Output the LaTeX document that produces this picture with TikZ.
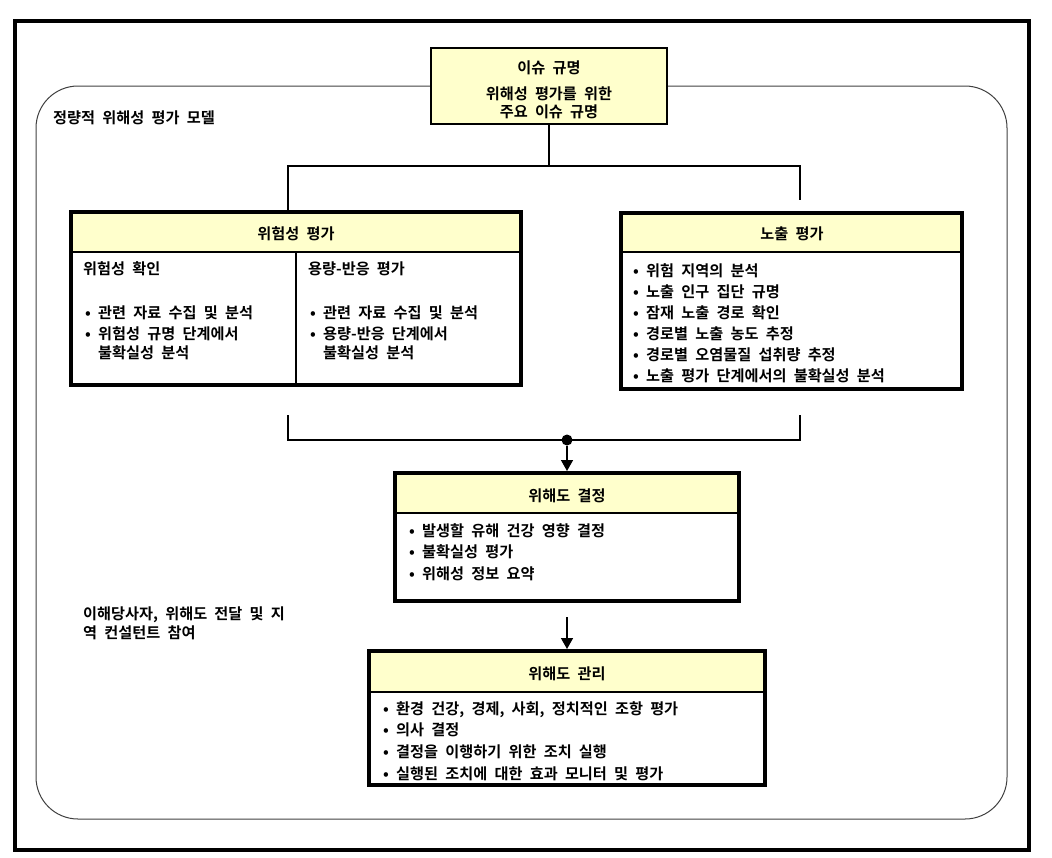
\documentclass[tikz,border=0pt]{standalone}
\usepackage{fontspec}
\usetikzlibrary{arrows.meta}
\newfontfamily\kr{Noto Sans CJK KR Bold}[WordSpace=2.1]
\newcommand\kt{\kr\fontsize{15.2}{18}\selectfont}
\definecolor{hdr}{HTML}{FFFFCC}
\begin{document}
\begin{tikzpicture}[x=1pt,y=-1pt,
  txt/.style={font=\kt, inner sep=0pt, anchor=base west},
  ctr/.style={font=\kt, inner sep=0pt, anchor=base},
  bigbox/.style={draw, line width=4pt, inner sep=0pt},
  topbox/.style={draw, line width=1.5pt, fill=hdr, inner sep=0pt},
  conn/.style={line width=1.5pt},
  arr/.style={line width=1.5pt, -{Triangle[length=11pt,width=12pt]}},
  dotnode/.style={circle, fill=black, inner sep=0pt, minimum size=11pt}
]
\useasboundingbox (0,0) rectangle (1052,857);
% outer frame
\draw[line width=4pt] (15,21) rectangle (1029,850);
% rounded model frame
\draw[line width=1pt, black!75, rounded corners=42pt] (36,86) rectangle (1007,819);
\node[txt] (model) at (53,123) {정량적 위해성 평가 모델};

% top box
\node[topbox, minimum width=236pt, minimum height=76pt] (issue) at (549,86) {};
\node[ctr] (issueA) at (549,73) {이슈 규명};
\node[ctr] (issueB) at (549,99) {위해성 평가를 위한};
\node[ctr] (issueC) at (549,117) {주요 이슈 규명};

% left box
\fill[hdr] (71,212) rectangle (521,252);
\node[bigbox, minimum width=450pt, minimum height=173pt] (risk) at (296,298.5) {};
\draw[line width=2pt] (71,252) -- (521,252);
\draw[line width=2pt] (296,252) -- (296,385);
\node[ctr] (riskH) at (296,239) {위험성 평가};
\node[txt] (hazH) at (83,274) {위험성 확인};
\node[txt] (haz1) at (85,318) {• 관련 자료 수집 및 분석};
\node[txt] (haz2) at (85,339) {• 위험성 규명 단계에서};
\node[txt] (haz3) at (85,358.5) {\phantom{• }불확실성 분석};
\node[txt] (doseH) at (308,274) {용량-반응 평가};
\node[txt] (dose1) at (310,318) {• 관련 자료 수집 및 분석};
\node[txt] (dose2) at (310,339) {• 용량-반응 단계에서};
\node[txt] (dose3) at (310,358.5) {\phantom{• }불확실성 분석};

% right box
\fill[hdr] (621,213) rectangle (962,252);
\node[bigbox, minimum width=341pt, minimum height=176pt] (expo) at (791.5,301) {};
\draw[line width=2pt] (621,252) -- (962,252);
\node[ctr] (expoH) at (792,239) {노출 평가};
\foreach \t [count=\i] in {위험 지역의 분석, 노출 인구 집단 규명, 잠재 노출 경로 확인, 경로별 노출 농도 추정, 경로별 오염물질 섭취량 추정, 노출 평가 단계에서의 불확실성 분석}
  \node[txt] (expo\i) at (633,{276+21*(\i-1)}) {• \t};

% connectors top
\coordinate (jm) at (549,166);
\coordinate (jl) at (288,166);
\coordinate (jr) at (800,166);
\draw[conn] (issue.south) -- (jm);
\draw[conn, shorten >=11pt] (jl |- risk.north) -- (jl) -- (jr) -- (jr |- expo.north);

% middle box
\fill[hdr] (395,473) rectangle (739,513);
\node[bigbox, minimum width=344pt, minimum height=128pt] (decide) at (567,537) {};
\draw[line width=2pt] (395,513) -- (739,513);
\node[ctr] (decideH) at (567,501) {위해도 결정};
\foreach \t [count=\i] in {발생할 유해 건강 영향 결정, 불확실성 평가, 위해성 정보 요약}
  \node[txt] (decide\i) at (409,{536+21.5*(\i-1)}) {• \t};

% connectors bottom
\coordinate (bl) at (288,415);
\coordinate (br) at (800,415);
\draw[conn] (bl) -- (288,440) -- (800,440) -- (br);
\node[dotnode] (dot) at (567,440) {};
\draw[arr] (dot) -- (decide.north);

% bottom box
\fill[hdr] (369,651) rectangle (765,692);
\node[bigbox, minimum width=396pt, minimum height=134pt] (manage) at (567,718) {};
\draw[line width=2pt] (369,692) -- (765,692);
\node[ctr] (manageH) at (567,679) {위해도 관리};
\foreach \t [count=\i] in {{환경 건강, 경제, 사회, 정치적인 조항 평가}, 의사 결정, 결정을 이행하기 위한 조치 실행, 실행된 조치에 대한 효과 모니터 및 평가}
  \node[txt] (manage\i) at (383,{714+21.7*(\i-1)}) {• \t};
\draw[arr, shorten <=14pt] (decide.south) -- (manage.north);

% stakeholder note
\node[txt] (note1) at (83,619) {이해당사자, 위해도 전달 및 지};
\node[txt] (note2) at (83,638) {역 컨설턴트 참여};
\end{tikzpicture}
\end{document}
